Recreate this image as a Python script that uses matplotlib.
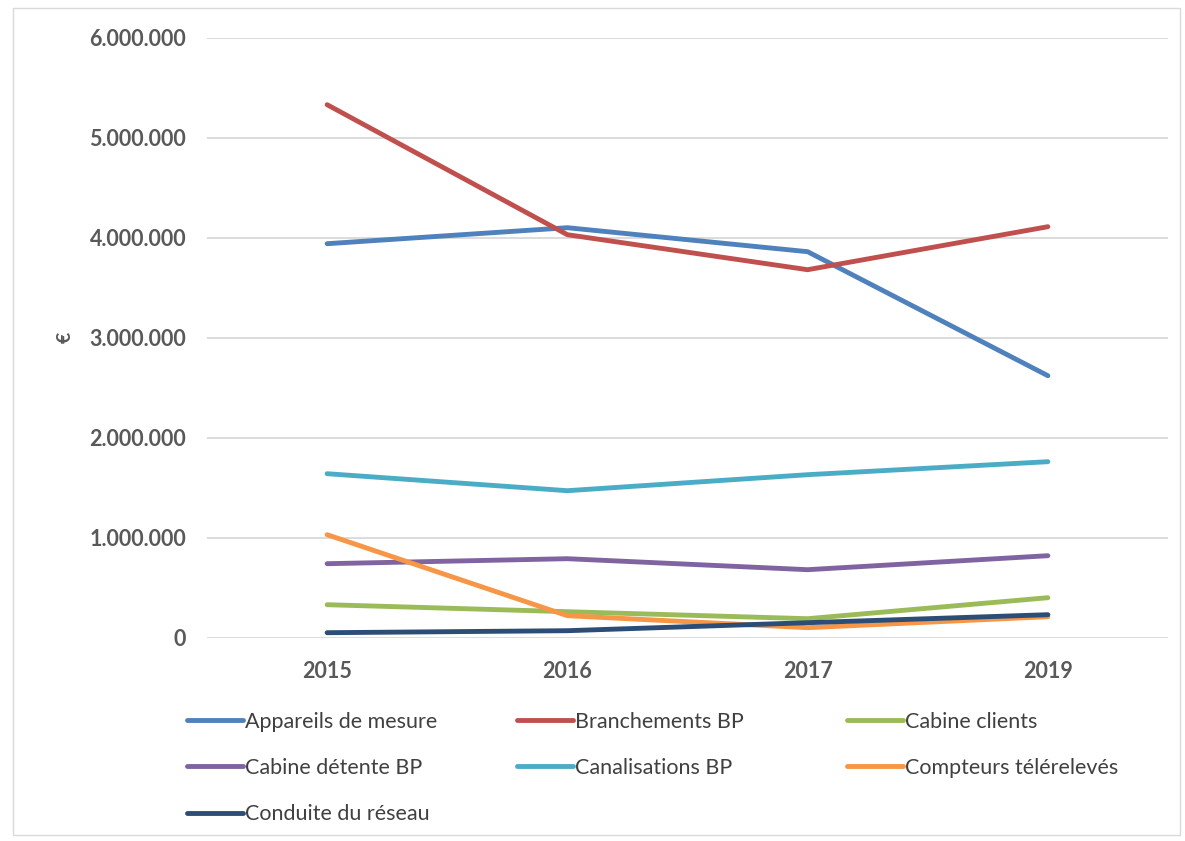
import matplotlib.pyplot as plt
from matplotlib.patches import Rectangle

years = ["2015", "2016", "2017", "2019"]

appareils_mesure = [3940000, 4100000, 3860000, 2620000]
branchements_bp = [5330000, 4030000, 3680000, 4110000]
cabine_clients = [330000, 260000, 190000, 400000]
cabine_detente_bp = [740000, 790000, 680000, 820000]
canalisations_bp = [1640000, 1470000, 1630000, 1760000]
compteurs_telereleves = [1030000, 220000, 100000, 210000]
conduite_reseau = [50000, 70000, 150000, 230000]

series = [
    ("Appareils de mesure", appareils_mesure, "#4F81BD"),
    ("Branchements BP", branchements_bp, "#C0504D"),
    ("Cabine clients", cabine_clients, "#9BBB59"),
    ("Cabine détente BP", cabine_detente_bp, "#8064A2"),
    ("Canalisations BP", canalisations_bp, "#4BACC6"),
    ("Compteurs télérelevés", compteurs_telereleves, "#F79646"),
    ("Conduite du réseau", conduite_reseau, "#2C4D75"),
]

plt.rcParams['font.family'] = ['Lato', 'DejaVu Sans']

W, H = 1185, 841
fig = plt.figure(figsize=(W / 100, H / 100), dpi=100)
ax = fig.add_axes([207 / W, 1 - 637.7 / H, (1168 - 207) / W, (637.7 - 37.7) / H])

# outer chart frame
fig.patches.append(Rectangle((13 / W, 1 - 835 / H), (1180 - 13) / W, (835 - 8) / H,
                             transform=fig.transFigure, fill=False,
                             edgecolor="#D9D9D9", linewidth=1.0))

x = list(range(len(years)))
handles = []
for name, vals, color in series:
    h, = ax.plot(x, vals, color=color, linewidth=3.5, solid_capstyle="round",
                 solid_joinstyle="round", label=name)
    handles.append(h)

ax.set_xlim(-0.5, len(years) - 0.5)
ax.set_ylim(0, 6000000)
ax.set_yticks(range(0, 6000001, 1000000))
ax.set_yticklabels(["0" if v == 0 else f"{v:,}".replace(",", ".") for v in range(0, 6000001, 1000000)])
ax.set_xticks(x)
ax.set_xticklabels(years)
ax.grid(axis="y", color="#D9D9D9", linewidth=1.3)
ax.set_axisbelow(True)
for s in ax.spines.values():
    s.set_visible(False)
ax.tick_params(length=0, labelsize=15.5, labelcolor="#595959")
ax.tick_params(axis="y", pad=15)
ax.tick_params(axis="x", pad=17)
for lbl in ax.get_xticklabels() + ax.get_yticklabels():
    lbl.set_fontweight("bold")

fig.text(65 / W, 1 - 337 / H, "€", rotation=90, ha="center", va="center",
         fontsize=14, fontweight="bold", color="#595959")

# legend laid out in three equal columns
col_x = [178, 508, 838]
for c in range(3):
    hs = handles[c::3]
    leg = fig.legend(handles=hs, labels=[h.get_label() for h in hs],
                     loc="upper left", bbox_to_anchor=(col_x[c] / W, 1 - 703 / H),
                     ncol=1, frameon=False, fontsize=15.5, labelcolor="#404040",
                     handlelength=2.6, handletextpad=0.1, labelspacing=1.22,
                     borderaxespad=0)

fig.savefig("out.png", dpi=100)
